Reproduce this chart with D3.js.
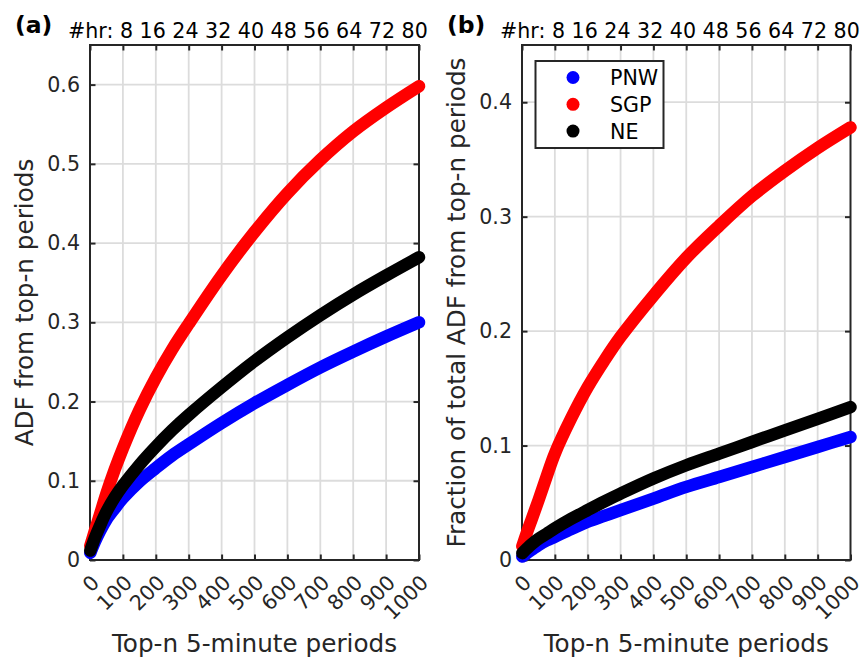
<!DOCTYPE html>
<html><head><meta charset="utf-8">
<script src="https://cdn.jsdelivr.net/npm/d3@7/dist/d3.min.js"></script>
<style>
html,body{margin:0;padding:0;background:#fff;}
svg{display:block;font-family:"DejaVu Sans",sans-serif;}
</style></head>
<body>
<svg id="chart" width="864" height="659"></svg>
<script>
// ---------- data ----------
const nGrid = [1, 15, 30, 50, 75, 100, 150, 200, 250, 300, 400, 500, 600, 700, 800, 900, 1000];

// panel (a): ADF from top-n periods
const pnwA = [0.009, 0.023, 0.036, 0.051, 0.065, 0.078, 0.099, 0.116, 0.132, 0.146, 0.173, 0.198, 0.221, 0.243, 0.263, 0.282, 0.300];
const sgpA = [0.018, 0.037, 0.057, 0.084, 0.114, 0.141, 0.189, 0.230, 0.266, 0.298, 0.359, 0.414, 0.463, 0.505, 0.541, 0.571, 0.598];
const neA  = [0.012, 0.028, 0.043, 0.061, 0.079, 0.094, 0.120, 0.143, 0.164, 0.183, 0.218, 0.251, 0.281, 0.309, 0.335, 0.359, 0.382];

// panel (b): fraction of total ADF from top-n periods
const pnwB = [0.003, 0.006, 0.009, 0.013, 0.017, 0.0203, 0.027, 0.0334, 0.0385, 0.0436, 0.0537, 0.0639, 0.0726, 0.0813, 0.090, 0.0988, 0.1075];
const sgpB = [0.012, 0.024, 0.036, 0.052, 0.073, 0.093, 0.124, 0.151, 0.174, 0.195, 0.231, 0.264, 0.292, 0.318, 0.340, 0.360, 0.378];
const neB  = [0.006, 0.010, 0.014, 0.0185, 0.023, 0.0276, 0.036, 0.0436, 0.051, 0.058, 0.0712, 0.0828, 0.093, 0.1031, 0.1133, 0.1234, 0.1336];

const seriesNames = ["PNW", "SGP", "NE"];
const seriesColors = ["#0000ff", "#ff0000", "#000000"];

const xTicks = [0, 100, 200, 300, 400, 500, 600, 700, 800, 900, 1000];
const hrLabels = [8, 16, 24, 32, 40, 48, 56, 64, 72, 80];
const yTicksA = [0, 0.1, 0.2, 0.3, 0.4, 0.5, 0.6];
const yTicksB = [0, 0.1, 0.2, 0.3, 0.4];
const xTitle = "Top-n 5-minute periods";
const yTitleA = "ADF from top-n periods";
const yTitleB = "Fraction of total ADF from top-n periods";

// ---------- drawing ----------
const svg = d3.select("#chart");
const axisColor = "#262626";
const tickFont = 20.6, titleFont = 24.7;

function panel(opt) {
  const top = 45, bottom = 560;
  const x = d3.scaleLinear().domain([0, 1000]).range([opt.left, opt.right]);
  const y = d3.scaleLinear().domain([0, opt.yMax]).range([bottom, top]);
  const g = svg.append("g");

  // grid
  g.append("g").selectAll("line").data(xTicks.slice(1, -1)).join("line")
    .attr("x1", d => x(d)).attr("x2", d => x(d)).attr("y1", top).attr("y2", bottom)
    .attr("stroke", "#dcdcdc").attr("stroke-width", 1.8);
  g.append("g").selectAll("line").data(opt.yTicks.slice(1)).join("line")
    .attr("x1", opt.left).attr("x2", opt.right).attr("y1", d => y(d)).attr("y2", d => y(d))
    .attr("stroke", "#dcdcdc").attr("stroke-width", 1.8);

  // axes
  const axB = g.append("g").attr("transform", `translate(0,${bottom})`)
    .call(d3.axisBottom(x).tickValues(xTicks).tickSize(-5.5).tickPadding(0).tickFormat(d3.format("d")));
  axB.selectAll("text")
    .attr("text-anchor", "end").attr("dy", null).attr("y", 0)
    .attr("transform", "translate(10,24) rotate(-45)");
  const axT = g.append("g").attr("transform", `translate(0,${top})`)
    .call(d3.axisTop(x).tickValues(xTicks).tickSize(-5.5).tickFormat(""));
  const axL = g.append("g").attr("transform", `translate(${opt.left},0)`)
    .call(d3.axisLeft(y).tickValues(opt.yTicks).tickSize(-5.5).tickPadding(10)
      .tickFormat(d => d === 0 ? "0" : d3.format(".1f")(d)));
  const axR = g.append("g").attr("transform", `translate(${opt.right},0)`)
    .call(d3.axisRight(y).tickValues(opt.yTicks).tickSize(-5.5).tickFormat(""));
  [axB, axT, axL, axR].forEach(a => {
    a.select(".domain").attr("stroke", axisColor).attr("stroke-width", 2).attr("d", null);
    a.selectAll(".tick line").attr("stroke", axisColor).attr("stroke-width", 2);
    a.selectAll("text").attr("fill", axisColor).attr("font-size", tickFont)
      .attr("font-family", "DejaVu Sans");
  });
  g.append("rect").attr("x", opt.left).attr("y", top)
    .attr("width", opt.right - opt.left).attr("height", bottom - top)
    .attr("fill", "none").attr("stroke", axisColor).attr("stroke-width", 2);

  // data
  const line = d3.line().x(d => x(d[0])).y(d => y(d[1])).curve(d3.curveCatmullRom.alpha(0.5));
  opt.series.forEach((vals, i) => {
    g.append("path").datum(nGrid.map((n, k) => [n, vals[k]]))
      .attr("d", line).attr("fill", "none").attr("stroke", seriesColors[i])
      .attr("stroke-width", 12.5).attr("stroke-linecap", "round").attr("stroke-linejoin", "round");
  });

  // top label
  g.append("text").attr("x", opt.left - 22).attr("y", 37.5)
    .attr("font-size", tickFont).attr("fill", "#000")
    .text("#hr: " + hrLabels.join(" "));
  g.append("text").attr("x", opt.left - 75).attr("y", 33)
    .attr("font-size", 23.5).attr("font-weight", "bold").attr("fill", "#000")
    .text(opt.tag);

  // titles
  g.append("text").attr("x", (opt.left + opt.right) / 2).attr("y", 652)
    .attr("text-anchor", "middle").attr("font-size", titleFont).attr("fill", axisColor)
    .text(xTitle);
  g.append("text").attr("transform", `translate(${opt.yTitleX},${(top + bottom) / 2}) rotate(-90)`)
    .attr("text-anchor", "middle").attr("font-size", titleFont).attr("fill", axisColor)
    .text(opt.yTitle);
  return {x, y, g};
}

panel({left: 90, right: 419, yMax: 0.65, yTicks: yTicksA, series: [pnwA, sgpA, neA],
  tag: "(a)", yTitle: yTitleA, yTitleX: 33});
panel({left: 522, right: 850.5, yMax: 0.45, yTicks: yTicksB, series: [pnwB, sgpB, neB],
  tag: "(b)", yTitle: yTitleB, yTitleX: 465});

// legend (panel b)
const lg = svg.append("g");
lg.append("rect").attr("x", 535.5).attr("y", 61).attr("width", 128).attr("height", 87)
  .attr("fill", "#fff").attr("stroke", axisColor).attr("stroke-width", 2);
seriesNames.forEach((name, i) => {
  const cy = 77.5 + i * 26.8;
  lg.append("circle").attr("cx", 573).attr("cy", cy).attr("r", 6.5).attr("fill", seriesColors[i]);
  lg.append("text").attr("x", 610).attr("y", cy + 7.5).attr("font-size", tickFont)
    .attr("fill", "#000").text(name);
});
</script>
</body></html>
